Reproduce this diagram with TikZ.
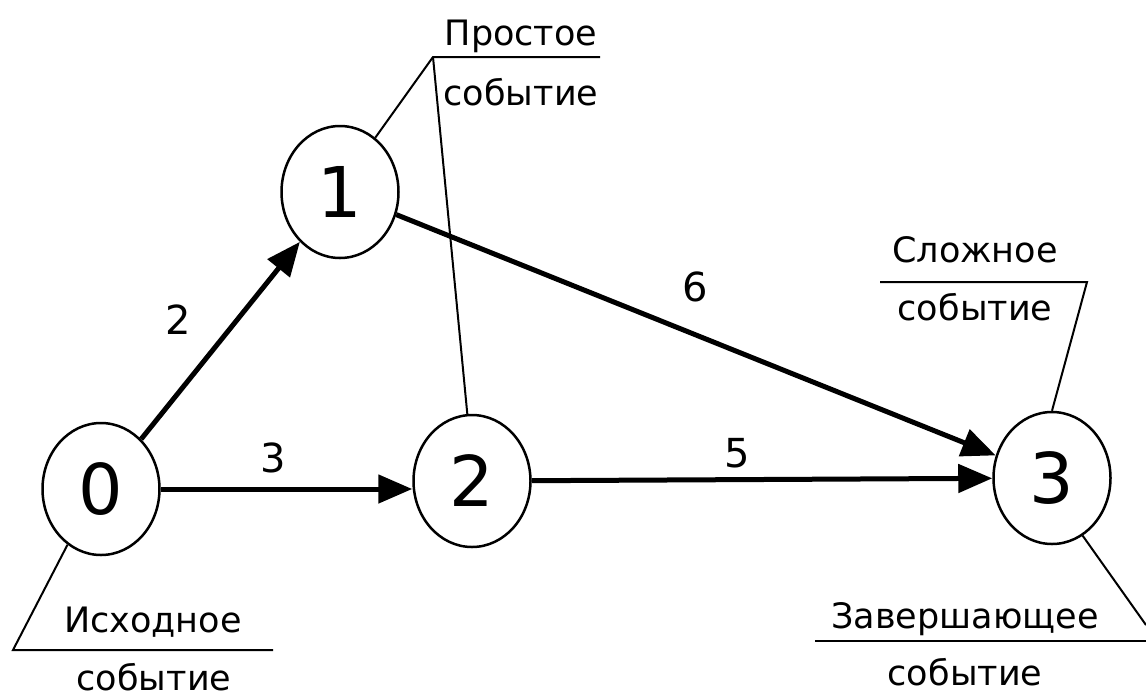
\documentclass[tikz,border=0pt]{standalone}
\usepackage{fontspec}
\setmainfont{DejaVu Sans}
\usetikzlibrary{arrows.meta,shapes.geometric}
\tikzset{
  ev/.style={ellipse,draw,line width=2.5pt,minimum width=117pt,minimum height=132pt,inner sep=0pt,font=\fontsize{70}{70}\selectfont},
  arr/.style={line width=5pt,-{Triangle[length=34pt,width=28pt]}},
  lead/.style={line width=2pt},
  num/.style={font=\fontsize{40}{40}\selectfont,inner sep=0pt},
  txt/.style={font=\fontsize{35}{35}\selectfont,inner sep=0pt,anchor=base},
}
\begin{document}
\begin{tikzpicture}[x=1pt,y=-1pt]
\useasboundingbox[fill=white] (0,0) rectangle (1146,697);
% events
\node[ev] (n0) at (101,489) {0};
\node[ev] (n1) at (340,192) {1};
\node[ev] (n2) at (472,481) {2};
\node[ev] (n3) at (1052,478) {3};
% activities
\draw[arr] (n0) -- (n1);
\draw[arr] (n0.east) -- (n0.east -| n2.west);
\draw[arr] (n1) -- (n3);
\draw[arr] (n2) -- (n3);
\node[num] (l2) at (178,320) {2};
\node[num] (l3) at (273,458) {3};
\node[num] (l6) at (695,287) {6};
\node[num] (l5) at (737,453) {5};
% simple event
\node[txt] (t1a) at (521,45) {Простое};
\node[txt] (t1b) at (521,105) {событие};
\coordinate (p1) at (433,57);
\coordinate (p1r) at (600,57);
\draw[lead] (n1.57) -- (p1) -- (p1r);
\draw[lead] (p1) -- (n2.94);
% complex event
\node[txt] (t2a) at (975,262) {Сложное};
\node[txt] (t2b) at (975,320) {событие};
\coordinate (p2l) at (880,282);
\coordinate (p2) at (1087,282);
\draw[lead] (p2l) -- (p2) -- (n3.north);
% initial event
\node[txt] (t3a) at (153,632) {Исходное};
\node[txt] (t3b) at (154,690) {событие};
\coordinate (p3) at (13,650);
\coordinate (p3r) at (273,650);
\draw[lead] (n0.239) -- (p3) -- (p3r);
% final event
\node[txt] (t4a) at (965,628) {Завершающее};
\node[txt] (t4b) at (965,685) {событие};
\coordinate (p4l) at (815,641);
\coordinate (p4r) at (1146,641);
\coordinate (p4e) at (1146,625);
\draw[lead] (p4l) -- (p4r);
\draw[lead] (n3.-62) -- (p4e);
\end{tikzpicture}
\end{document}
